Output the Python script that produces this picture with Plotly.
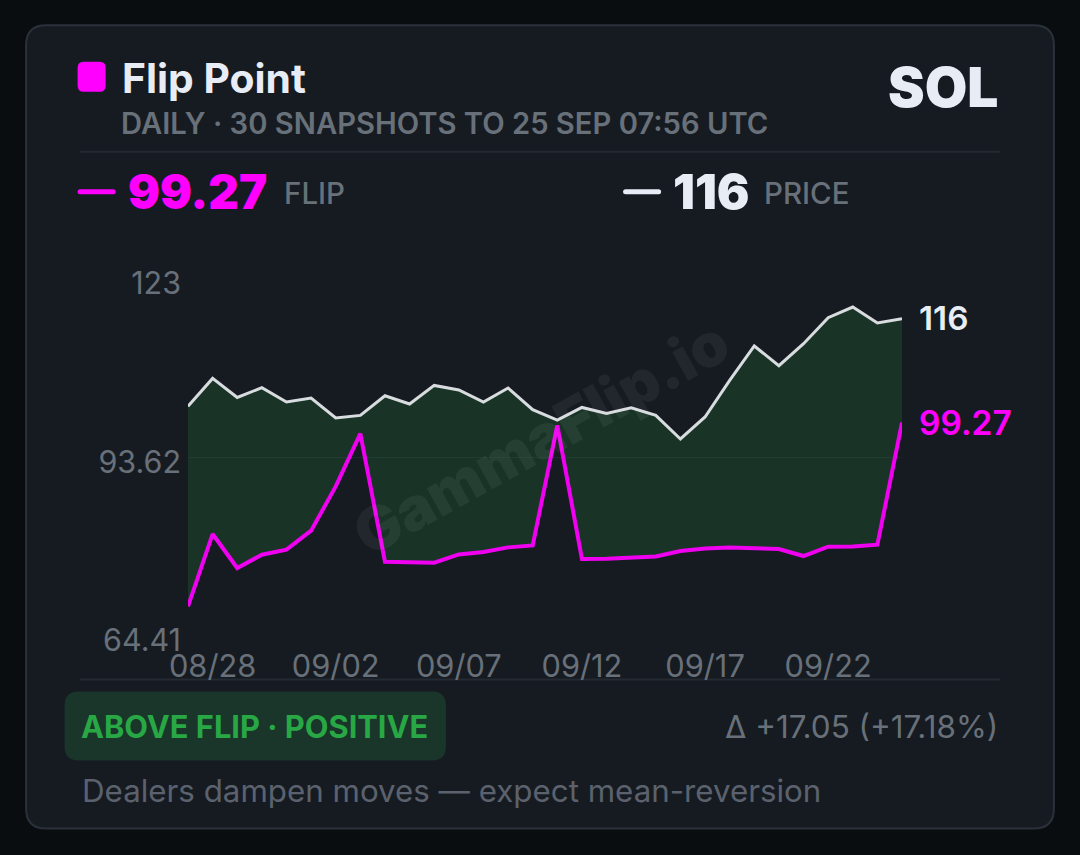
import plotly.graph_objects as go

dates = ["08/27","08/28","08/29","08/30","08/31","09/01","09/02","09/03","09/04","09/05",
         "09/06","09/07","09/08","09/09","09/10","09/11","09/12","09/13","09/14","09/15",
         "09/16","09/17","09/18","09/19","09/20","09/21","09/22","09/23","09/24","09/25"]
price = [101.93,106.52,103.40,105.00,102.65,103.31,100.02,100.45,103.68,102.32,
         105.37,104.62,102.65,104.95,101.39,99.69,101.76,100.78,101.71,100.45,
         96.58,100.19,106.19,111.84,108.61,112.22,116.48,118.24,115.61,116.32]
flip = [69.10,80.98,75.40,77.59,78.41,81.53,88.80,97.45,76.44,76.32,
        76.27,77.64,78.03,78.79,79.11,98.81,76.88,76.93,77.14,77.31,
        78.19,78.62,78.79,78.69,78.52,77.37,78.90,78.95,79.23,99.27]
x_ticks = ["08/28","09/02","09/07","09/12","09/17","09/22"]
y_ticks = [64.41,93.62,123]
y_labels = ["64.41","93.62","123"]

W, H = 1080, 855
L, R, T, B = 188.3, 901.7, 278.3, 635.4
FONT = "Inter"
px = lambda v: (v - L) / (R - L)
py = lambda v: (B - v) / (B - T)

def rrect(x0, y0, x1, y1, r, fill, line=None, lw=0):
    a, b, c, d = px(x0), px(x1), py(y0), py(y1)
    rx, ry = r / (R - L), r / (B - T)
    path = (f"M {a+rx} {c} L {b-rx} {c} Q {b} {c} {b} {c-ry} L {b} {d+ry} Q {b} {d} {b-rx} {d} "
            f"L {a+rx} {d} Q {a} {d} {a} {d+ry} L {a} {c-ry} Q {a} {c} {a+rx} {c} Z")
    return dict(type="path", xref="paper", yref="paper", path=path, fillcolor=fill,
                line=dict(color=line or fill, width=lw), layer="below")

def hline(x0, x1, y, color, w):
    return dict(type="line", xref="paper", yref="paper", x0=px(x0), x1=px(x1), y0=py(y), y1=py(y),
                line=dict(color=color, width=w), layer="below")

def text(s, x, y, size, color, weight=400, anchor="left"):
    return dict(text=s, xref="paper", yref="paper", x=px(x), y=py(y), xanchor=anchor, yanchor="middle",
                showarrow=False, borderpad=0, borderwidth=0,
                font=dict(family=FONT, size=size, color=color, weight=weight))

GREY = "#687079"
WHITE = "#e8edf5"
MAG = "#ff00ff"

fig = go.Figure()
fig.add_trace(go.Scatter(x=dates, y=flip, mode="lines", line=dict(color="#f000f0", width=4), hoverinfo="skip", showlegend=False))
fig.add_trace(go.Scatter(x=dates, y=price, mode="lines", line=dict(color="#d8dcdf", width=3), fill="tonexty",
                         fillcolor="rgba(38,134,60,0.24)", hoverinfo="skip", showlegend=False))

shapes = [
    rrect(26.5, 25.5, 1053.5, 829, 20, "#161b22", "#2b313a", 2),
    rrect(78, 62, 106, 92, 6, MAG),
    hline(80, 1000, 152, "#242a32", 2),
    hline(80, 1000, 680, "#242a32", 2),
    rrect(78, 189.5, 116, 194.5, 2.5, MAG),
    rrect(623, 189.5, 661, 194.5, 2.5, WHITE),
    rrect(65, 692, 446, 761, 14, "#1a3529"),
]
ann = [
    text("Flip Point", 122, 78, 40.8, WHITE, 700),
    text("DAILY · 30 SNAPSHOTS TO 25 SEP 07:56 UTC", 121, 124, 29.2, GREY, 600),
    text("SOL", 998, 87, 55, WHITE, 900, "right"),
    text("99.27", 128, 192, 47.5, MAG, 900),
    text("FLIP", 284, 193, 29.5, GREY, 500),
    text("116", 673, 192, 48.5, WHITE, 900),
    text("PRICE", 764, 193, 29.5, GREY, 500),
    text("116", 919, 318, 33.3, WHITE, 600),
    text("99.27", 919, 423, 33.5, MAG, 600),
    text("ABOVE FLIP · POSITIVE", 81, 727, 30.8, "#28a745", 700),
    text("Δ +17.05 (+17.18%)", 998, 727, 31.4, GREY, 400, "right"),
    text("Dealers dampen moves — expect mean-reversion", 82, 791, 31.3, "#5b626d", 400),
    dict(text="GammaFlip.io", xref="paper", yref="paper", x=px(541), y=py(437), showarrow=False, textangle=-29,
         font=dict(family=FONT, size=60, color="rgba(255,255,255,0.055)", weight=900)),
]

fig.update_layout(
    width=W, height=H, autosize=False,
    margin=dict(l=L, r=W - R, t=T, b=H - B, pad=0),
    paper_bgcolor="#0a0d10", plot_bgcolor="rgba(0,0,0,0)",
    showlegend=False, shapes=shapes, annotations=ann,
    xaxis=dict(type="category", categoryorder="array", categoryarray=dates, range=[0, len(dates) - 1],
               tickmode="array", tickvals=x_ticks, ticktext=x_ticks, showgrid=False, zeroline=False,
               showline=False, ticks="", ticklabelstandoff=10,
               tickfont=dict(family=FONT, size=30.8, color=GREY)),
    yaxis=dict(range=[y_ticks[0], y_ticks[-1]], tickmode="array", tickvals=y_ticks, ticktext=y_labels,
               showgrid=True, gridcolor="#20262d", gridwidth=1, zeroline=False, showline=False, ticks="",
               ticklabelshift=5, ticklabelstandoff=6,
               tickfont=dict(family=FONT, size=30.5, color=GREY)),
)
fig.write_html("out.html", config=dict(displayModeBar=False, staticPlot=True),
               post_script="document.body.style.margin='0';document.body.style.overflow='hidden';document.body.style.background='#0a0d10';")
